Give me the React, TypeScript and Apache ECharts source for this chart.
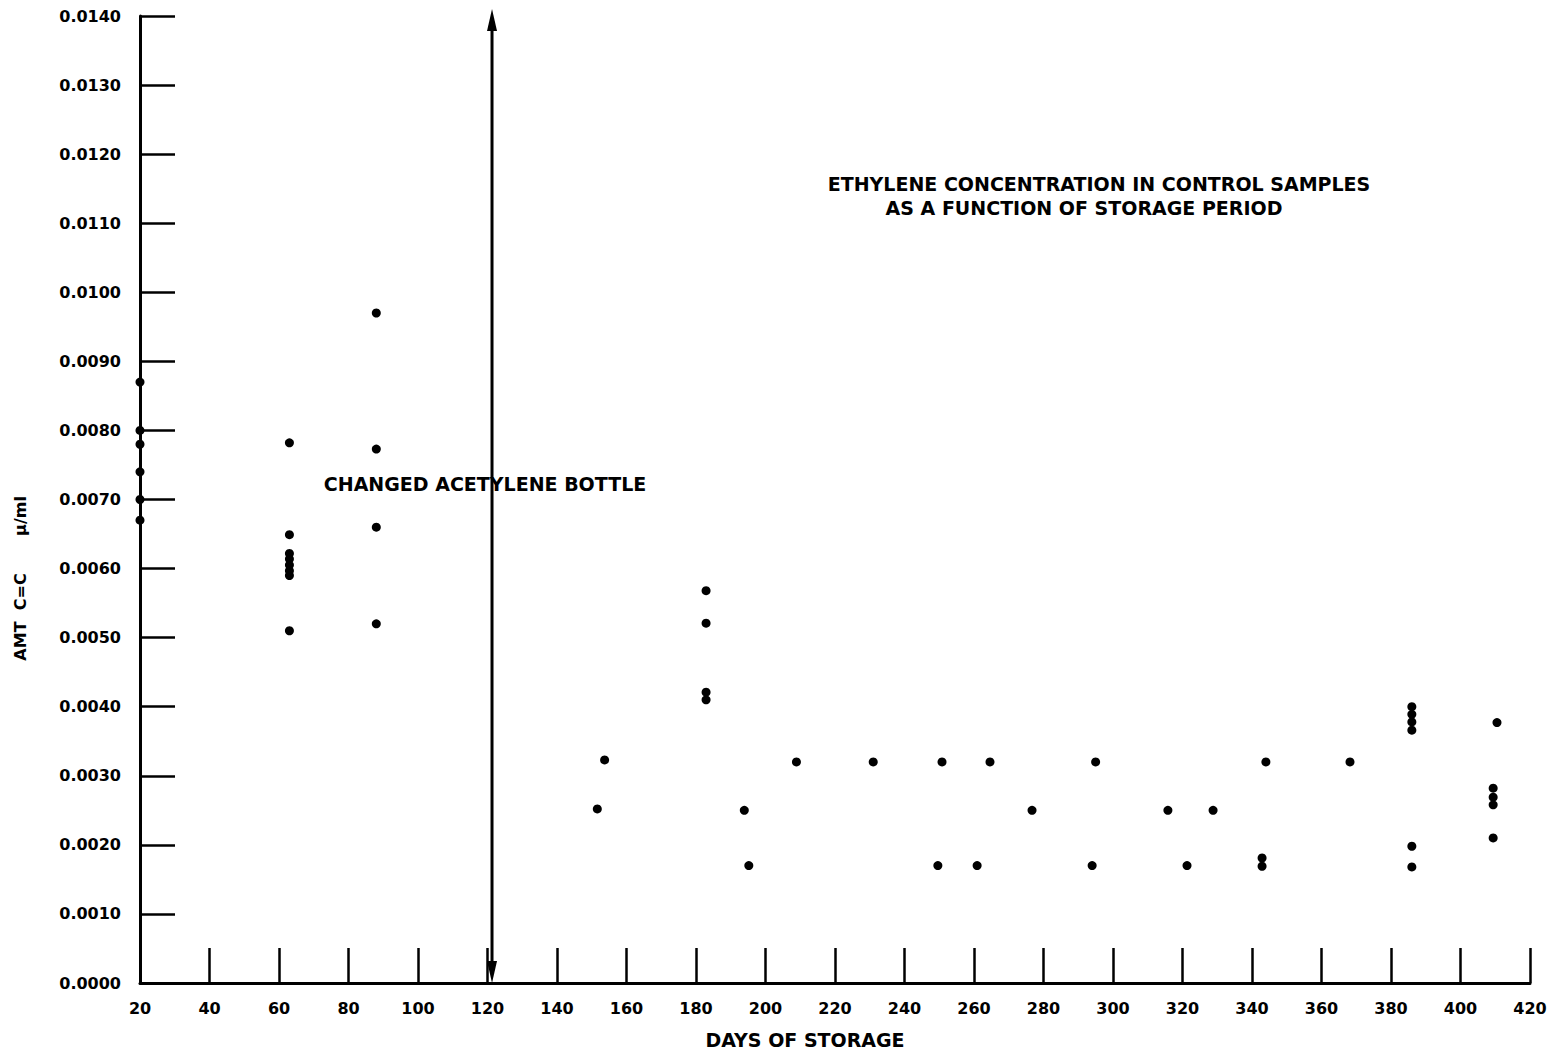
import React, { useEffect, useRef } from "react";
import * as echarts from "echarts";

// Days of storage and ethylene amount (C=C, µ/ml) for each control sample
const days: number[] = [
  20, 20, 20, 20, 20, 20,
  63, 63, 63, 63, 63, 63, 63, 63,
  88, 88, 88, 88,
  151.6, 153.7,
  182.9, 182.9, 182.9, 182.9,
  193.9, 195.2,
  208.9, 231, 249.6, 250.8, 260.9, 264.6, 276.7,
  294, 295, 315.8, 321.3, 328.8,
  342.9, 342.9, 344,
  368.2,
  386, 386, 386, 386, 386, 386,
  409.4, 409.4, 409.4, 409.4, 410.5,
];
const amounts: number[] = [
  0.0087, 0.0080, 0.0078, 0.0074, 0.0070, 0.0067,
  0.00782, 0.00649, 0.00622, 0.00614, 0.00605, 0.00597, 0.0059, 0.0051,
  0.0097, 0.00773, 0.0066, 0.0052,
  0.00252, 0.00323,
  0.00568, 0.00521, 0.00421, 0.0041,
  0.0025, 0.0017,
  0.0032, 0.0032, 0.0017, 0.0032, 0.0017, 0.0032, 0.0025,
  0.0017, 0.0032, 0.0025, 0.0017, 0.0025,
  0.00181, 0.00169, 0.0032,
  0.0032,
  0.0040, 0.00389, 0.00378, 0.00366, 0.00198, 0.00168,
  0.00282, 0.00269, 0.00258, 0.0021, 0.00377,
];
// Vertical double arrow marking the acetylene bottle change
const acetyleneChangeDay = 121.3;
const arrowSpan = [0, 0.0141];
const xTicks = { min: 20, max: 420, interval: 20 };
const yTicks = { min: 0, max: 0.014, interval: 0.001 };

const titleLines = [
  "ETHYLENE CONCENTRATION IN CONTROL SAMPLES",
  "AS A FUNCTION OF STORAGE PERIOD",
];
const annotationText = "CHANGED ACETYLENE BOTTLE";
const xAxisName = "DAYS OF STORAGE";
const yAxisName1 = "AMT  C=C";
const yAxisName2 = "µ/ml";

const FONT = "'DejaVu Sans', Verdana, sans-serif";

export default function App() {
  const ref = useRef<HTMLDivElement>(null);
  useEffect(() => {
    if (!ref.current) return;
    const chart = echarts.init(ref.current, undefined, { renderer: "svg" });
    const points = days.map((d, i) => [d, amounts[i]]);
    const textStyle = (extra: any) => ({
      fill: "#000",
      fontFamily: FONT,
      fontWeight: "bold",
      ...extra,
    });
    const labelStyle = {
      color: "#000",
      fontFamily: FONT,
      fontWeight: "bold",
      fontSize: 16,
    };
    chart.setOption({
      animation: false,
      backgroundColor: "#fff",
      grid: { left: 140, right: 30, top: 16, bottom: 73, containLabel: false },
      xAxis: {
        type: "value",
        min: xTicks.min,
        max: xTicks.max,
        interval: xTicks.interval,
        axisLine: { show: true, lineStyle: { color: "#000", width: 3 } },
        axisTick: { show: true, inside: true, length: 35, lineStyle: { color: "#000", width: 2.5 } },
        axisLabel: { ...labelStyle, margin: 17, showMinLabel: true, showMaxLabel: true },
        splitLine: { show: false },
      },
      yAxis: {
        type: "value",
        min: yTicks.min,
        max: yTicks.max,
        interval: yTicks.interval,
        axisLine: { show: true, lineStyle: { color: "#000", width: 3 } },
        axisTick: { show: true, inside: true, length: 35, lineStyle: { color: "#000", width: 2.5 } },
        axisLabel: { ...labelStyle, margin: 19, formatter: (v: number) => v.toFixed(4) },
        splitLine: { show: false },
      },
      series: [
        {
          type: "scatter",
          data: points,
          symbol: "circle",
          symbolSize: 9,
          clip: false,
          itemStyle: { color: "#000", opacity: 1 },
        },
      ],
    });

    const bottom = chart.convertToPixel({ gridIndex: 0 }, [acetyleneChangeDay, arrowSpan[0]]) as number[];
    const top = chart.convertToPixel({ gridIndex: 0 }, [acetyleneChangeDay, arrowSpan[1]]) as number[];
    const ax = bottom[0];
    const headH = 22;
    const headW = 5;

    chart.setOption({
      graphic: [
        {
          type: "line",
          shape: { x1: ax, y1: top[1] + headH - 2, x2: ax, y2: bottom[1] - headH + 2 },
          style: { stroke: "#000", lineWidth: 3 },
        },
        {
          type: "polygon",
          shape: { points: [[ax, top[1]], [ax - headW, top[1] + headH], [ax + headW, top[1] + headH]] },
          style: { fill: "#000" },
        },
        {
          type: "polygon",
          shape: { points: [[ax, bottom[1]], [ax - headW, bottom[1] - headH], [ax + headW, bottom[1] - headH]] },
          style: { fill: "#000" },
        },
        {
          type: "text",
          x: 1099,
          y: 184,
          style: textStyle({ text: titleLines[0], fontSize: 19, align: "center", verticalAlign: "middle" }),
        },
        {
          type: "text",
          x: 1084,
          y: 208,
          style: textStyle({ text: titleLines[1], fontSize: 19, align: "center", verticalAlign: "middle" }),
        },
        {
          type: "text",
          x: 485,
          y: 484,
          style: textStyle({ text: annotationText, fontSize: 19, align: "center", verticalAlign: "middle" }),
        },
        {
          type: "text",
          x: 805,
          y: 1040,
          style: textStyle({ text: xAxisName, fontSize: 19, align: "center", verticalAlign: "middle" }),
        },
        {
          type: "text",
          x: 20,
          y: 617,
          rotation: Math.PI / 2,
          style: textStyle({ text: yAxisName1, fontSize: 16, align: "center", verticalAlign: "middle" }),
        },
        {
          type: "text",
          x: 20,
          y: 516,
          rotation: Math.PI / 2,
          style: textStyle({ text: yAxisName2, fontSize: 16, align: "center", verticalAlign: "middle" }),
        },
      ],
    });
    return () => chart.dispose();
  }, []);
  return (
    <div
      ref={ref}
      style={{ position: "absolute", left: 0, top: 0, width: 1560, height: 1056, background: "#fff" }}
    />
  );
}
